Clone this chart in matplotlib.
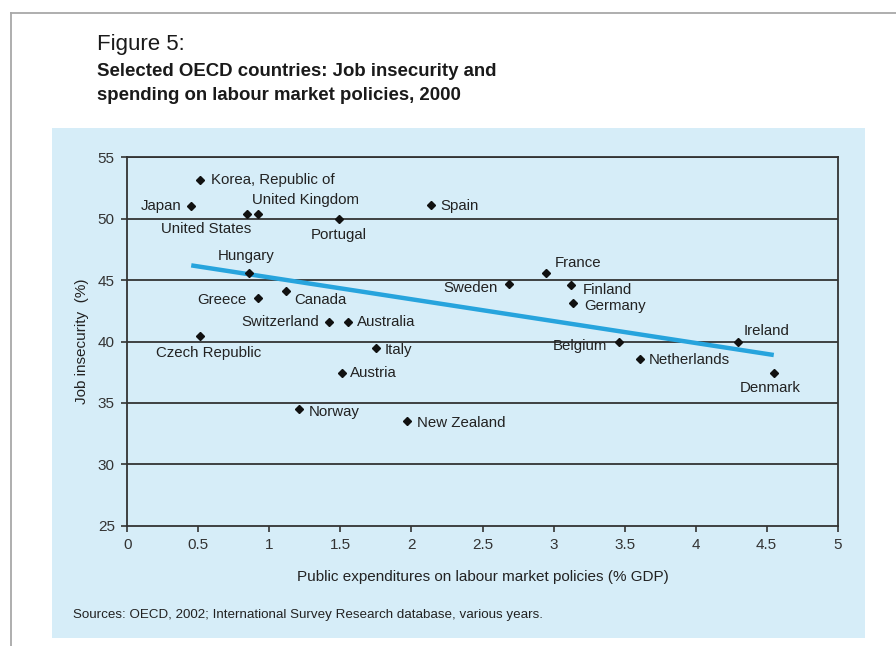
import matplotlib
matplotlib.use("Agg")
import matplotlib.pyplot as plt
from matplotlib.patches import Rectangle
from matplotlib.lines import Line2D

plt.rcParams['font.family'] = ['Liberation Sans', 'DejaVu Sans']

# ---- data ----
countries = ["Korea, Republic of", "Japan", "United States", "United Kingdom", "Portugal",
             "Spain", "Hungary", "Greece", "Canada", "Switzerland", "Australia",
             "Czech Republic", "Italy", "Austria", "Norway", "New Zealand", "Sweden",
             "France", "Finland", "Germany", "Belgium", "Ireland", "Netherlands", "Denmark"]
spending = [0.51, 0.45, 0.84, 0.92, 1.49, 2.14, 0.86, 0.92, 1.12, 1.42, 1.55,
            0.51, 1.75, 1.51, 1.21, 1.97, 2.69, 2.95, 3.12, 3.14, 3.46, 4.30, 3.61, 4.55]
insecurity = [53.15, 51.0, 50.4, 50.4, 50.0, 51.1, 45.55, 43.55, 44.1, 41.6, 41.6,
              40.45, 39.5, 37.45, 34.5, 33.5, 44.65, 45.6, 44.6, 43.1, 40.0, 40.0, 38.6, 37.4]
trend_x = [0.45, 4.55]
trend_y = [46.2, 38.9]
x_ticks = [0, 0.5, 1, 1.5, 2, 2.5, 3, 3.5, 4, 4.5, 5]
x_tick_labels = ["0", "0.5", "1", "1.5", "2", "2.5", "3", "3.5", "4", "4.5", "5"]
y_ticks = [25, 30, 35, 40, 45, 50, 55]

# label placement (offset in pixels, horizontal alignment)
label_pos = {
    "Korea, Republic of": (11, 0, 'left'),
    "Japan": (-10, 0, 'right'),
    "United States": (-41, -15.5, 'center'),
    "United Kingdom": (-6, 13.7, 'left'),
    "Portugal": (0, -16, 'center'),
    "Spain": (9, -0.7, 'left'),
    "Hungary": (-3, 17.6, 'center'),
    "Greece": (-11.5, -1.6, 'right'),
    "Canada": (8, -9, 'left'),
    "Switzerland": (-10, -0.6, 'right'),
    "Australia": (9, -0.6, 'left'),
    "Czech Republic": (9, -17, 'center'),
    "Italy": (9, -2.3, 'left'),
    "Austria": (8.3, -0.6, 'left'),
    "Norway": (9.6, -3.4, 'left'),
    "New Zealand": (9.4, -1.7, 'left'),
    "Sweden": (-11.3, -4, 'right'),
    "France": (8, 9.7, 'left'),
    "Finland": (11.7, -5, 'left'),
    "Germany": (11, -3, 'left'),
    "Belgium": (-11.4, -4.3, 'right'),
    "Ireland": (5.6, 11, 'left'),
    "Netherlands": (8.6, -1, 'left'),
    "Denmark": (-3.5, -15, 'center'),
}

W, H = 896, 646
fig = plt.figure(figsize=(W / 100, H / 100), dpi=100)
fig.patch.set_facecolor('white')

# grey frame
fig.add_artist(Line2D([11 / W, 1], [1 - 13 / H, 1 - 13 / H], color='#a8a8a8', lw=1.3,
                      transform=fig.transFigure))
fig.add_artist(Line2D([11 / W, 11 / W], [0, 1 - 13 / H], color='#a8a8a8', lw=1.3,
                      transform=fig.transFigure))

# blue panel
fig.add_artist(Rectangle((52 / W, (H - 638) / H), (865 - 52) / W, (638 - 128) / H,
                         transform=fig.transFigure, facecolor='#d6edf8', edgecolor='none',
                         zorder=0))

# titles
fig.text(97 / W, 1 - 50 / H, "Figure 5:", fontsize=16, color='#1a1a1a', va='baseline')
fig.text(97 / W, 1 - 76 / H, "Selected OECD countries: Job insecurity and", fontsize=13.4,
         fontweight='bold', color='#1a1a1a', va='baseline')
fig.text(97 / W, 1 - 100 / H, "spending on labour market policies, 2000", fontsize=13.4,
         fontweight='bold', color='#1a1a1a', va='baseline')

ax = fig.add_axes([127.3 / W, (H - 525.7) / H, (837.7 - 127.3) / W, (525.7 - 157.3) / H])
ax.set_facecolor('none')
ax.set_xlim(0, 5)
ax.set_ylim(25, 55)
ax.set_xticks(x_ticks)
ax.set_xticklabels(x_tick_labels)
ax.set_yticks(y_ticks)
for s in ax.spines.values():
    s.set_color('#333333')
    s.set_linewidth(1.3)
ax.tick_params(direction='out', length=4, width=1.2, color='#333333',
               labelsize=11, labelcolor='#333333', pad=5)
for yv in y_ticks[1:]:
    ax.axhline(yv, color='#333333', lw=1.3, zorder=1)

ax.plot(trend_x, trend_y, color='#27a4dd', lw=3.2, solid_capstyle='butt', zorder=2)
ax.plot(spending, insecurity, linestyle='none', marker='D', markersize=4.1,
        color='#111111', zorder=3)

for name, xv, yv in zip(countries, spending, insecurity):
    dx, dy, ha = label_pos[name]
    ax.annotate(name, (xv, yv), xytext=(dx, dy), textcoords='offset pixels',
                ha=ha, va='center', fontsize=10.8, color='#222222', zorder=4)

ax.set_ylabel("Job insecurity  (%)", fontsize=11, color='#222222', labelpad=6)
ax.set_xlabel("Public expenditures on labour market policies (% GDP)", fontsize=11,
              color='#222222', labelpad=13)

fig.text(73 / W, 1 - 615 / H,
         "Sources: OECD, 2002; International Survey Research database, various years.",
         fontsize=9.6, color='#222222', va='center')

fig.savefig("out.png", dpi=100)
